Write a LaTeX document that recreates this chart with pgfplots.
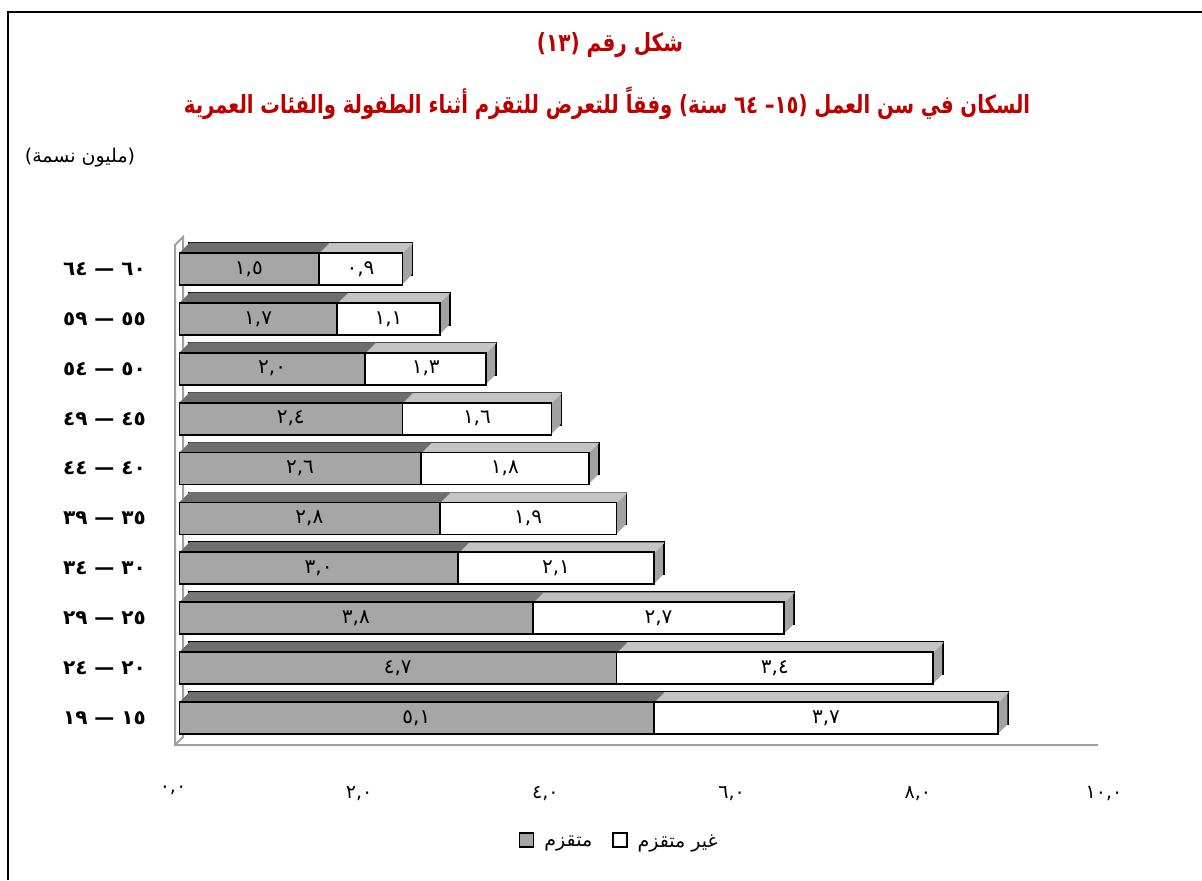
\documentclass[border=0pt]{standalone}
\usepackage{pgfplots}
\pgfplotsset{compat=1.18}
\usepackage{pgfplotstable}
\usepackage{fontspec}
\setmainfont{DejaVu Sans}
\newfontfamily\arabicfont[Script=Arabic]{DejaVu Sans}
\TeXXeTstate=1
\definecolor{titlered}{HTML}{BC0000}
\definecolor{bargray}{HTML}{A6A6A6}
\definecolor{sidegray}{HTML}{A2A2A2}
\definecolor{topgray}{HTML}{6E6E6E}
\definecolor{toplight}{HTML}{C4C4C4}
\definecolor{wallgray}{HTML}{A0A0A0}

% Western digits -> Arabic-Indic digits, decimal point -> comma (each digit its own box, left to right)
\expandafter\def\csname ardX0\endcsname{\mbox{٠}}
\expandafter\def\csname ardX1\endcsname{\mbox{١}}
\expandafter\def\csname ardX2\endcsname{\mbox{٢}}
\expandafter\def\csname ardX3\endcsname{\mbox{٣}}
\expandafter\def\csname ardX4\endcsname{\mbox{٤}}
\expandafter\def\csname ardX5\endcsname{\mbox{٥}}
\expandafter\def\csname ardX6\endcsname{\mbox{٦}}
\expandafter\def\csname ardX7\endcsname{\mbox{٧}}
\expandafter\def\csname ardX8\endcsname{\mbox{٨}}
\expandafter\def\csname ardX9\endcsname{\mbox{٩}}
\expandafter\def\csname ardX.\endcsname{\mbox{,}}
\def\ardig#1{\ifx\relax#1\else\csname ardX#1\endcsname\expandafter\ardig\fi}
\newcommand\ardigits[1]{\mbox{\arabicfont\ardig#1\relax}}
\newcommand\ardmeta{\expandafter\ardigits\expandafter{\pgfplotspointmeta}}
\newcommand{\agelab}[2]{\ardigits{#1}\hspace{0.35em}\mbox{—}\hspace{0.35em}\ardigits{#2}}

% stunted (gray) segment g, not stunted (white) segment w, in millions
\pgfplotstableread{
y g w
0 5.1 3.7
1 4.7 3.4
2 3.8 2.7
3 3.0 2.1
4 2.8 1.9
5 2.6 1.8
6 2.4 1.6
7 2.0 1.3
8 1.7 1.1
9 1.5 0.9
}\data

\begin{document}
\begin{tikzpicture}
\path[use as bounding box] (-89.5pt,-67.5pt) rectangle (511.5pt,372.5pt);
% frame
\draw[line width=1pt] (-85.5pt,-67.5pt) -- (-85.5pt,366.5pt) -- (511.5pt,366.5pt);
% wall and floor
\draw[wallgray, line width=1pt] (459.5pt,0pt) -- (-2pt,0pt) -- (-2pt,250pt) -- (2pt,254pt) -- (2pt,4pt) -- (-2pt,0pt);
\begin{axis}[
  scale only axis, width=465.5pt, height=254pt,
  xmin=0, xmax=10, ymin=-0.54, ymax=9.64,
  axis line style={draw=none},
  major tick length=0pt,
  xtick={0,2,4,6,8,10},
  xticklabels={\ardigits{0.0},\ardigits{2.0},\ardigits{4.0},\ardigits{6.0},\ardigits{8.0},\ardigits{10.0}},
  xticklabel style={font=\arabicfont\fontsize{9.5}{10}\selectfont, yshift=-17pt, xshift=-3pt},
  ytick={0,...,9},
  yticklabels={\agelab{19}{15},\agelab{24}{20},\agelab{29}{25},\agelab{34}{30},\agelab{39}{35},\agelab{44}{40},\agelab{49}{45},\agelab{54}{50},\agelab{59}{55},\agelab{64}{60}},
  yticklabel style={font=\arabicfont\bfseries\fontsize{10}{11}\selectfont, anchor=east, xshift=-13pt},
  legend columns=2,
  legend style={at={(0.474,-0.193)}, anchor=center, draw=none, fill=none,
    font=\arabicfont\fontsize{9.5}{10}\selectfont,
    /tikz/every odd column/.append style={column sep=0pt},
    /tikz/every even column/.append style={column sep=8pt}},
  legend image code/.code={\draw[#1] (0pt,-2pt) rectangle (7pt,5pt);},
  legend cell align=left,
]
\addlegendimage{fill=bargray, draw=black, line width=0.7pt}
\addlegendentry{\hspace{3pt}\beginR متقزم\endR}
\addlegendimage{fill=white, draw=black, line width=0.7pt}
\addlegendentry{\hspace{3pt}\beginR غير متقزم\endR}
% 3D depth: back outlined copy
\addplot[xbar, bar width=16pt, bar shift=0pt, fill=sidegray, draw=black, line width=0.9pt, xshift=5pt, yshift=5pt, forget plot]
  table[x expr=\thisrow{g}+\thisrow{w}, y=y]{\data};
% side face copies
\pgfplotsinvokeforeach{4.5,4,3.5,3,2.5,2,1.5,1,0.5}{
\addplot[xbar, bar width=16pt, bar shift=0pt, fill=sidegray, draw=none, xshift=#1pt, yshift=#1pt, forget plot]
  table[x expr=\thisrow{g}+\thisrow{w}, y=y]{\data};
}
% top face strips (light, over white segment)
\pgfplotsinvokeforeach{5,4.5,4,3.5,3,2.5,2,1.5,1,0.5}{
\addplot[xbar, bar width=0.7pt, bar shift=0pt, fill=toplight, draw=none, xshift=#1pt, yshift={8pt+#1pt-0.35pt}, forget plot]
  table[x expr=\thisrow{g}+\thisrow{w}, y=y]{\data};
}
% top face strips (dark, over gray segment)
\pgfplotsinvokeforeach{5,4.5,4,3.5,3,2.5,2,1.5,1,0.5}{
\addplot[xbar, bar width=0.7pt, bar shift=0pt, fill=topgray, draw=none, xshift=#1pt, yshift={8pt+#1pt-0.35pt}, forget plot]
  table[x=g, y=y]{\data};
}
% front bars
\addplot[xbar, bar width=16pt, bar shift=0pt, fill=white, draw=black, line width=0.9pt, forget plot,
  point meta=explicit symbolic,
  nodes near coords={\ardmeta},
  visualization depends on={\thisrow{w} \as \wv},
  every node near coord/.append style={anchor=center, text=black, font=\fontsize{10}{11}\selectfont, xshift={-\wv*23.275pt}}]
  table[x expr=\thisrow{g}+\thisrow{w}, y=y, meta=w]{\data};
\addplot[xbar, bar width=16pt, bar shift=0pt, fill=bargray, draw=black, line width=0.9pt, forget plot,
  point meta=explicit symbolic,
  nodes near coords={\ardmeta},
  visualization depends on={\thisrow{g} \as \gv},
  every node near coord/.append style={anchor=center, text=black, font=\fontsize{10}{11}\selectfont, xshift={-\gv*23.275pt}}]
  table[x=g, y=y, meta=g]{\data};
\end{axis}
\node[text=titlered, xscale=0.8, font=\arabicfont\bfseries\fontsize{12.5}{15}\selectfont] at (215.5pt,350pt) {\beginR شكل رقم (١٣)\endR};
\node[text=titlered, xscale=0.785, font=\arabicfont\bfseries\fontsize{12.5}{15}\selectfont] at (214pt,321pt) {\beginR السكان في سن العمل (١٥– ٦٤ سنة) وفقاً للتعرض للتقزم أثناء الطفولة والفئات العمرية\endR};
\node[font=\arabicfont\fontsize{9.5}{11}\selectfont] at (-49.5pt,293.5pt) {\beginR(مليون نسمة)\endR};
\end{tikzpicture}
\end{document}
